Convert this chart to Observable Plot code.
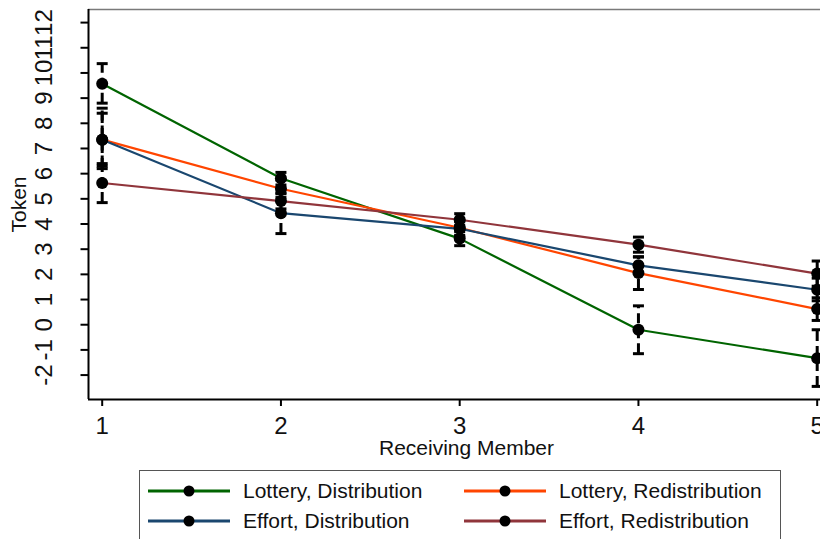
<!DOCTYPE html>
<html>
<head>
<meta charset="utf-8">
<script src="https://cdn.jsdelivr.net/npm/d3@7"></script>
<script src="https://cdn.jsdelivr.net/npm/@observablehq/plot@0.6"></script>
<style>
  html, body { margin: 0; padding: 0; background: #fff; overflow: hidden; }
  #wrap { position: relative; width: 820px; height: 539px; overflow: hidden; font-family: "Liberation Sans", Arial, sans-serif; }
  #legend { position: absolute; left: 139px; top: 470px; width: 642px; height: 90px; border: 1px solid #555; box-sizing: border-box; }
  .item { position: absolute; height: 30px; display: flex; align-items: center; font-size: 21px; color: #111; white-space: nowrap; }
  .item svg { margin-right: 13px; }
</style>
</head>
<body>
<div id="wrap">
  <div id="chart"></div>
  <div id="legend"></div>
</div>
<script>
// ---- data ----
const members = [1, 2, 3, 4, 5];
const seriesNames = ["Lottery, Distribution", "Lottery, Redistribution", "Effort, Distribution", "Effort, Redistribution"];
const seriesColors = ["#006400", "#ff4500", "#1a476f", "#90353b"];

const lotDist     = [9.57, 5.82, 3.42, -0.20, -1.33];
const lotDistLo   = [8.80, 5.55, 3.14, -1.15, -2.45];
const lotDistHi   = [10.37, 6.05, 3.70, 0.75, -0.20];

const lotRedist   = [7.35, 5.40, 3.85, 2.05, 0.62];
const lotRedistLo = [6.30, 5.05, 3.55, 1.40, 0.17];
const lotRedistHi = [8.60, 5.75, 4.15, 2.70, 1.07];

const effDist     = [7.35, 4.43, 3.81, 2.36, 1.39];
const effDistLo   = [6.20, 3.62, 3.50, 2.03, 0.95];
const effDistHi   = [8.40, 5.24, 4.10, 2.69, 1.85];

const effRedist   = [5.63, 4.91, 4.17, 3.18, 2.03];
const effRedistLo = [4.85, 4.60, 3.95, 2.88, 1.53];
const effRedistHi = [6.40, 5.20, 4.41, 3.48, 2.53];

const yTicks = [-2, -1, 0, 1, 2, 3, 4, 5, 6, 7, 8, 9, 10, 11, 12];
const xTicks = [1, 2, 3, 4, 5];
const xTitle = "Receiving Member";
const yTitle = "Token";

// ---- table ----
const valueSets = [
  [lotDist, lotDistLo, lotDistHi],
  [lotRedist, lotRedistLo, lotRedistHi],
  [effDist, effDistLo, effDistHi],
  [effRedist, effRedistLo, effRedistHi]
];
const rows = [];
seriesNames.forEach((s, i) => {
  const [v, lo, hi] = valueSets[i];
  members.forEach((m, j) => rows.push({series: s, member: m, value: v[j], lo: lo[j], hi: hi[j]}));
});

const xDomain = [0.9234, 5.0185];
const yDomain = [-2.97, 12.52];

const capSymbol = {
  draw(context) { context.moveTo(-5.5, 0); context.lineTo(5.5, 0); }
};

const font = '"Liberation Sans", Arial, sans-serif';

const chart = Plot.plot({
  width: 820,
  height: 465,
  marginLeft: 88,
  marginRight: 0,
  marginTop: 9,
  marginBottom: 66,
  x: {domain: xDomain},
  y: {domain: yDomain},
  color: {domain: seriesNames, range: seriesColors},
  style: {fontFamily: font, background: "white", color: "#111", overflow: "visible"},
  marks: [
    Plot.ruleY([yDomain[1]], {stroke: "#7a7a7a", strokeWidth: 1.5}),
    Plot.ruleX([xDomain[0]], {stroke: "#000", strokeWidth: 2}),
    Plot.ruleY([yDomain[0]], {stroke: "#000", strokeWidth: 2}),
    Plot.axisY({ticks: yTicks, tickSize: 7.5, strokeWidth: 2, stroke: "#000", tickFormat: () => "", label: null}),
    Plot.text(yTicks, {y: d => d, text: d => String(d), frameAnchor: "left", dx: -44, rotate: -90,
      textAnchor: "middle", lineAnchor: "middle", fontSize: 24, fill: "#111"}),
    Plot.text([yTitle], {text: d => d, frameAnchor: "left", dx: -69, rotate: -90,
      textAnchor: "middle", lineAnchor: "middle", fontSize: 21, fill: "#111"}),
    Plot.axisX({ticks: xTicks, tickSize: 7, strokeWidth: 2, stroke: "#000", fontSize: 24, tickPadding: 10,
      tickFormat: d => String(d), label: null, fill: "#111"}),
    Plot.text([xTitle], {text: d => d, frameAnchor: "bottom", dx: 12, dy: 49,
      textAnchor: "middle", lineAnchor: "middle", fontSize: 21, fill: "#111"}),
    Plot.line(rows, {x: "member", y: "value", z: "series", stroke: "series", strokeWidth: 2.2}),
    Plot.ruleX(rows, {x: "member", y1: "lo", y2: "hi", stroke: "#000", strokeWidth: 3, strokeDasharray: "10,5"}),
    Plot.dot(rows, {x: "member", y: "lo", symbol: capSymbol, stroke: "#000", strokeWidth: 3, r: 5}),
    Plot.dot(rows, {x: "member", y: "hi", symbol: capSymbol, stroke: "#000", strokeWidth: 3, r: 5}),
    Plot.dot(rows, {x: "member", y: "value", r: 6, fill: "#000", stroke: "none"})
  ]
});
document.getElementById("chart").appendChild(chart);

// ---- legend ----
const legend = document.getElementById("legend");
const pos = [
  {left: 8, top: 5}, {left: 324, top: 5},
  {left: 8, top: 35}, {left: 324, top: 35}
];
[0, 1, 2, 3].forEach((si, k) => {
  const d = document.createElement("div");
  d.className = "item";
  d.style.left = pos[k].left + "px";
  d.style.top = pos[k].top + "px";
  const ns = "http://www.w3.org/2000/svg";
  const svg = document.createElementNS(ns, "svg");
  svg.setAttribute("width", 82); svg.setAttribute("height", 14);
  const ln = document.createElementNS(ns, "line");
  ln.setAttribute("x1", 0); ln.setAttribute("x2", 82); ln.setAttribute("y1", 7); ln.setAttribute("y2", 7);
  ln.setAttribute("stroke", seriesColors[si]); ln.setAttribute("stroke-width", 3);
  const c = document.createElementNS(ns, "circle");
  c.setAttribute("cx", 41); c.setAttribute("cy", 7); c.setAttribute("r", 5.5); c.setAttribute("fill", "#000");
  svg.appendChild(ln); svg.appendChild(c);
  const t = document.createElement("span");
  t.textContent = seriesNames[si];
  d.appendChild(svg); d.appendChild(t);
  legend.appendChild(d);
});
</script>
</body>
</html>
